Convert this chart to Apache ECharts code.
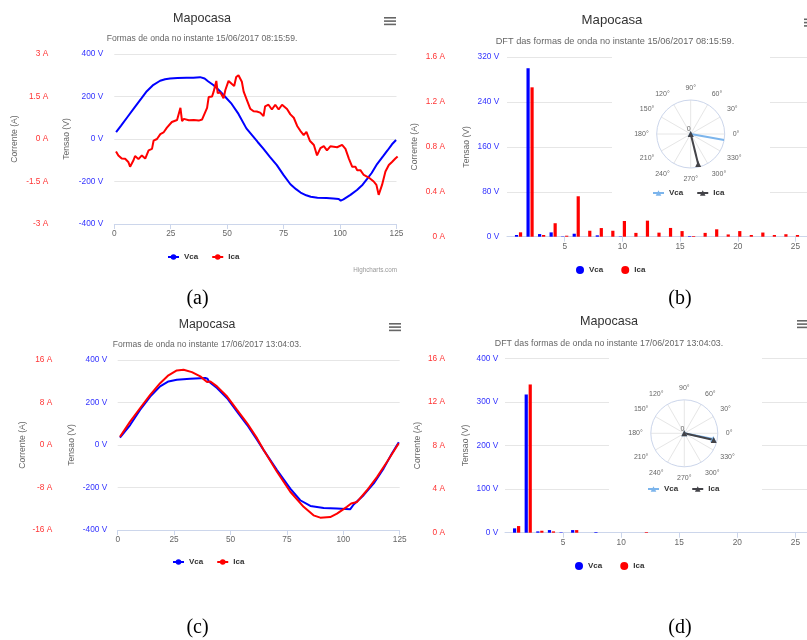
<!DOCTYPE html>
<html><head><meta charset="utf-8">
<script src="https://cdn.jsdelivr.net/npm/echarts@6/dist/echarts.min.js"></script>
<style>html,body{margin:0;padding:0;background:#fff}#c{width:807px;height:640px}</style>
</head><body><div id="c"></div>
<script>
// ---------- DATA ----------
// (a) waveforms 15/06/2017 08:15:59  [sample, value]
const waveA_Vca = [[0.8,32],[3,63],[6,106],[9,149],[12,191],[14.4,225],[17,252],[20.3,274],[22.5,281],[24.7,285],[28,287],[32,288],[35,288],[38,291],[40,285],[41.5,272],[44,253],[46.5,228],[49,200],[52,165],[55,118],[58.5,50],[61,18],[63.5,-14],[66,-45],[69,-85],[72,-123],[75,-170],[78,-213],[80.5,-236],[82.5,-252],[85,-265],[87,-272],[90,-276],[94,-278],[97,-280],[99.4,-282],[100.3,-290],[101.5,-284],[104.6,-263],[107.5,-240],[110,-215],[112,-188],[114,-160],[116.4,-118],[119,-82],[121,-54],[123,-25],[124.8,-5]];
const waveA_Ica = [[0.75,-0.44],[1.8,-0.58],[3.3,-0.69],[4.8,-0.70],[5.5,-0.66],[6.2,-0.81],[7,-0.98],[8.5,-0.75],[9.2,-0.60],[10.7,-0.71],[12.2,-0.58],[13.7,-0.69],[15.2,-0.40],[16.7,-0.35],[17.4,-0.06],[18.9,0],[20.4,0.17],[21.8,0.23],[23.3,0.40],[25.5,0.60],[27.8,0.67],[28.5,0.71],[29.3,1.10],[30,0.63],[30.8,0.71],[33,0.66],[35.2,0.67],[37.4,0.65],[38.9,0.69],[41.1,1.10],[41.8,1.48],[43.3,1.50],[44,1.67],[45.2,2.05],[45.8,1.62],[47,1.64],[48.4,1.44],[49.2,1.73],[50.6,2.05],[52.1,1.94],[53.1,1.87],[54,2.19],[55,2.25],[55.8,2.31],[56.5,2.02],[57.3,1.67],[58.7,1.38],[60.2,1.07],[61.7,0.98],[63.1,0.97],[64.6,0.93],[66.1,0.81],[66.8,1.15],[68.3,1.21],[69.8,1.04],[71.3,1.21],[72.8,1.04],[74.3,1.21],[76.5,1.06],[78,0.87],[79.5,0.75],[81,0.46],[82.4,0.29],[83.9,0.14],[85.1,0.25],[86.6,-0.06],[88.4,-0.21],[89.8,-0.58],[91.3,-0.32],[92.8,-0.25],[94.2,-0.40],[95.7,-0.26],[98.7,-0.29],[100.9,-0.21],[102.4,-0.35],[103.9,-0.69],[105.4,-0.98],[106.8,-0.98],[107.6,-1.10],[109,-1.10],[110.5,-1.27],[112.7,-1.36],[114.9,-1.50],[116.1,-1.62],[117.1,-1.97],[118.6,-1.62],[120.1,-1.15],[121.6,-0.92],[123,-0.81],[124.5,-0.69],[125.5,-0.62]];
// (c) waveforms 17/06/2017 13:04:03
const waveC_Vca = [[1,35],[5.5,94],[9.9,165],[14.4,228],[18.8,276],[22.5,299],[26.2,307],[32.1,312],[38.8,315],[39.8,312],[40.5,298],[44,268],[48.5,220],[52.9,157],[57.4,94],[61.8,24],[64.7,-24],[70.6,-118],[76.5,-205],[80.9,-260],[85.4,-287],[91.3,-296],[97.2,-299],[103.1,-302],[104.6,-280],[109,-236],[113.5,-181],[117.9,-110],[121.6,-39],[124.6,13]];
const waveC_Ica = [[1,1.56],[5.5,4.4],[9.9,6.92],[14.4,9.44],[18.8,11.64],[22.5,13.12],[26.2,14.04],[29.2,14.16],[32.9,13.72],[36.6,12.92],[39.6,11.84],[41.1,11.96],[44,11.04],[48.5,9.12],[52.9,6.6],[57.4,4.08],[61.8,1.24],[64.7,-0.96],[70.6,-5.04],[76.5,-8.8],[82.4,-11.64],[86.8,-13.24],[89.8,-13.68],[94.2,-13.56],[97.2,-12.92],[101.6,-11.64],[103.5,-11.0],[106.1,-10.72],[110.5,-8.52],[115,-6.0],[119.4,-3.16],[124.6,0.32]];
// DFT harmonics
const harmonics = [1,2,3,4,5,6,7,8,9,10,11,12,13,14,15,16,17,18,19,20,21,22,23,24,25];
const dftB_Vca = [3,300,4.7,7.7,0.6,5.3,0,2.4,0,0.6,0,0,0,0,0,1,0,0,0,0,0,0,0,0,0];
const dftB_Ica = [0.039,1.33,0.015,0.12,0.009,0.36,0.053,0.077,0.053,0.14,0.034,0.143,0.036,0.078,0.05,0.006,0.034,0.066,0.02,0.05,0.015,0.037,0.015,0.022,0.015];
const dftD_Vca = [10,317,3,6,1,6,0,1.5,0,0,0,0,0,0,0,0,0,0,0,0,0,0,0,0,0];
const dftD_Ica = [0.61,13.6,0.18,0.12,0,0.24,0,0,0,0,0,0.06,0,0,0,0,0,0,0,0,0,0,0,0,0];
// phasors [relative magnitude, angle in degrees]
const phasorB_Vca = [1.0, 350];
const phasorB_Ica = [0.91, 284];
const phasorD_Vca = [0.88, 349];
const phasorD_Ica = [0.90, 347];
// tick labels / texts
const titleText = 'Mapocasa';
const subA = 'Formas de onda no instante 15/06/2017 08:15:59.';
const subB = 'DFT das formas de onda no instante 15/06/2017 08:15:59.';
const subC = 'Formas de onda no instante 17/06/2017 13:04:03.';
const subD = 'DFT das formas de onda no instante 17/06/2017 13:04:03.';
const barTicks = [5,10,15,20,25];

// ---------- CHART ----------
const FONT = 'Liberation Sans';
const AX = '#ccd6eb', GRID = '#e6e6e6';
const zip = (xs, ys) => xs.map((x, i) => [x, ys[i]]);

function ttl(text, x, y, size, color, extra, family) {
  return Object.assign({text, left: x, top: y, textAlign: 'center', textVerticalAlign: 'middle', padding: 0,
    textStyle: {fontSize: size, color, fontWeight: 'normal', fontFamily: family || FONT}}, extra || {});
}
function xAx(grid, max, interval, custom) {
  const o = {gridIndex: grid, type: 'value', min: 0, max, interval,
    axisLine: {onZero: false, lineStyle: {color: AX}}, axisTick: {length: 5, lineStyle: {color: AX}},
    axisLabel: {color: '#666', fontSize: 8.3, margin: 6}, splitLine: {show: false}};
  if (custom) { o.axisLabel.customValues = custom; o.axisTick.customValues = custom; }
  return o;
}
function yAx(grid, min, max, interval, unit, color, name, nameGap, margin, offset) {
  return {gridIndex: grid, type: 'value', position: 'left', min, max, interval, offset: offset || 0,
    name, nameLocation: 'middle', nameRotate: 90, nameGap,
    nameTextStyle: {color: '#666', fontSize: 8.6, fontFamily: FONT},
    axisLine: {show: false}, axisTick: {show: false},
    axisLabel: {color, fontSize: 8.3, margin, formatter: v => v + ' ' + unit},
    splitLine: {show: !offset, lineStyle: {color: GRID}}};
}
function angleAx(i) {
  return {polarIndex: i, type: 'value', min: 0, max: 360, interval: 30, startAngle: 0, clockwise: false, z: 5,
    axisLine: {lineStyle: {color: AX}}, axisTick: {show: false},
    splitLine: {lineStyle: {color: GRID}},
    axisLabel: {color: '#666', fontSize: 7, margin: 8, formatter: v => v === 360 ? '' : v + '°'}};
}
function radiusAx(i) {
  return {polarIndex: i, type: 'value', min: 0, max: 1, interval: 1, z: 5,
    axisLine: {show: false}, axisTick: {show: false}, splitLine: {show: false},
    axisLabel: {color: '#666', fontSize: 7, margin: 1, align: 'right', formatter: v => v === 0 ? '0' : ''}};
}
function lineS(name, xi, yi, data, color) {
  return {type: 'line', name, xAxisIndex: xi, yAxisIndex: yi, data, color, symbol: 'circle', showSymbol: false,
    lineStyle: {width: 2}, animation: false};
}
function barS(name, xi, yi, data, color) {
  return {type: 'bar', name, xAxisIndex: xi, yAxisIndex: yi, data, color, barWidth: 3.2, barGap: '25%', animation: false};
}
function polS(name, pi, vec, color) {
  return {type: 'line', name, coordinateSystem: 'polar', polarIndex: pi, data: [[0, 0], vec], color,
    symbol: 'triangle', symbolSize: 6, lineStyle: {width: 2}, z: 6, animation: false};
}
function leg(names, x, y, icon, extra) {
  const o = {data: names, left: x, top: y, padding: 0, itemGap: 13, itemWidth: 11, itemHeight: 7,
    textStyle: {fontSize: 8, fontWeight: 'bold', color: '#333', fontFamily: FONT},
    formatter: n => n.trim(), selectedMode: false};
  if (icon) { o.icon = icon; o.itemWidth = 8; o.itemHeight = 8; o.itemGap = 18; }
  return Object.assign(o, extra || {});
}
function burger(x, y, w) {
  return [0, 1, 2].map(k => ({type: 'rect', shape: {x, y: y + k * 3.3, width: w, height: 1.6}, style: {fill: '#666'}, z: 10}));
}
const SERIF = 'Liberation Serif';

const option = {
  animation: false,
  backgroundColor: '#fff',
  textStyle: {fontFamily: FONT},
  title: [
    ttl(titleText, 202, 18.3, 12.6, '#333'),
    ttl(subA, 202, 38.7, 8.6, '#666'),
    ttl(titleText, 612, 20, 13.2, '#333'),
    ttl(subB, 615, 41.7, 9.2, '#666'),
    ttl(titleText, 207, 325, 12.3, '#333'),
    ttl(subC, 207, 344.3, 8.5, '#666'),
    ttl(titleText, 609, 321.7, 12.6, '#333'),
    ttl(subD, 609, 343.3, 8.8, '#666'),
    ttl('Highcharts.com', 397, 270.7, 6.3, '#999', {textAlign: 'right'}),
    ttl('(a)', 197.5, 299, 20, '#000', null, SERIF),
    ttl('(b)', 680, 299, 20, '#000', null, SERIF),
    ttl('(c)', 197.5, 628, 20, '#000', null, SERIF),
    ttl('(d)', 680, 628, 20, '#000', null, SERIF)
  ],
  grid: [
    {left: 114.3, top: 54, width: 282.2, height: 170},
    {left: 507, top: 57, width: 314.6, height: 179.7},
    {left: 117.7, top: 360, width: 282, height: 170},
    {left: 505, top: 358.3, width: 306.8, height: 174.4}
  ],
  xAxis: [
    xAx(0, 125, 25),
    xAx(1, 26, 5, barTicks),
    xAx(2, 125, 25),
    xAx(3, 26, 5, barTicks)
  ],
  yAxis: [
    yAx(0, -400, 400, 200, 'V', '#3333ff', 'Tensao (V)', 43, 11),
    yAx(0, -3, 3, 1.5, 'A', '#ff3333', 'Corrente (A)', 40, 11, 55),
    yAx(1, 0, 320, 80, 'V', '#3333ff', 'Tensao (V)', 36, 7.7),
    yAx(1, 0, 1.6, 0.4, 'A', '#ff3333', 'Corrente (A)', 33.4, 7.7, 54.3),
    yAx(2, -400, 400, 200, 'V', '#3333ff', 'Tensao (V)', 41.5, 10.4),
    yAx(2, -16, 16, 8, 'A', '#ff3333', 'Corrente (A)', 35.5, 10.4, 55),
    yAx(3, 0, 400, 100, 'V', '#3333ff', 'Tensao (V)', 35, 6.7),
    yAx(3, 0, 16, 4, 'A', '#ff3333', 'Corrente (A)', 30, 6.7, 53.3)
  ],
  polar: [
    {center: [690.7, 134], radius: 34},
    {center: [684.3, 433.3], radius: 33.5}
  ],
  angleAxis: [angleAx(0), angleAx(1)],
  radiusAxis: [radiusAx(0), radiusAx(1)],
  legend: [
    leg(['Vca', 'Ica'], 167, 253),
    leg(['Vca', 'Ica'], 576, 266, 'circle'),
    leg(['Vca', 'Ica'], 172, 558),
    leg(['Vca', 'Ica'], 575, 562, 'circle'),
    leg(['Vca ', 'Ica '], 652, 189),
    leg(['Vca ', 'Ica '], 647, 485)
  ],
  graphic: {elements: [
    {type: 'rect', shape: {x: 612, y: 50, width: 158, height: 157}, style: {fill: '#fff'}, z: 1},
    {type: 'rect', shape: {x: 609, y: 350, width: 153, height: 155}, style: {fill: '#fff'}, z: 1}
  ].concat(burger(384, 17, 12), burger(804, 18.5, 12), burger(389, 323, 12), burger(797, 320, 12))},
  series: [
    lineS('Vca', 0, 0, waveA_Vca, '#0000ff'),
    lineS('Ica', 0, 1, waveA_Ica, '#ff0000'),
    barS('Vca', 1, 2, zip(harmonics, dftB_Vca), '#0000ff'),
    barS('Ica', 1, 3, zip(harmonics, dftB_Ica), '#ff0000'),
    lineS('Vca', 2, 4, waveC_Vca, '#0000ff'),
    lineS('Ica', 2, 5, waveC_Ica, '#ff0000'),
    barS('Vca', 3, 6, zip(harmonics, dftD_Vca), '#0000ff'),
    barS('Ica', 3, 7, zip(harmonics, dftD_Ica), '#ff0000'),
    polS('Vca ', 0, phasorB_Vca, '#7cb5ec'),
    polS('Ica ', 0, phasorB_Ica, '#434348'),
    polS('Vca ', 1, phasorD_Vca, '#7cb5ec'),
    polS('Ica ', 1, phasorD_Ica, '#434348')
  ]
};
const chart = echarts.init(document.getElementById('c'), null, {renderer: 'canvas'});
chart.setOption(option);
</script>
</body></html>
